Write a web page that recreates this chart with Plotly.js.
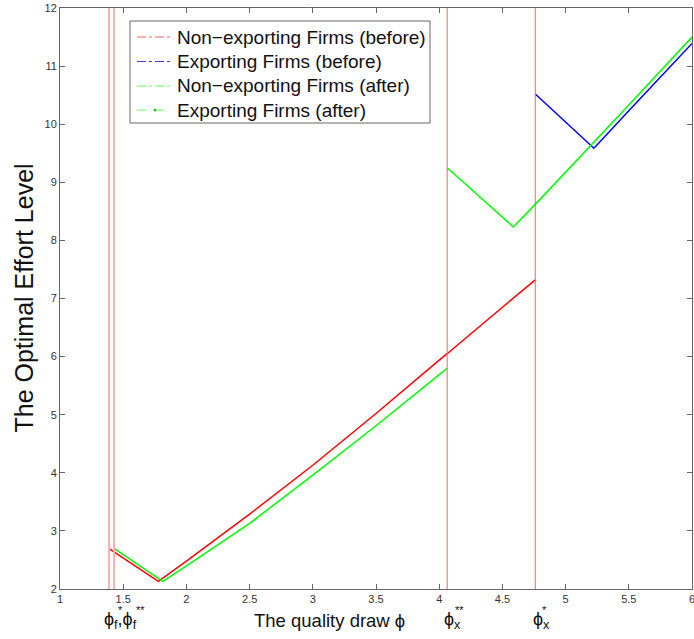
<!DOCTYPE html>
<html>
<head>
<meta charset="utf-8">
<script src="https://cdn.plot.ly/plotly-3.0.1.min.js"></script>
<style>html,body{margin:0;padding:0;background:#fff;}#chart{width:694px;height:639px;}</style>
</head>
<body>
<div id="chart"></div>
<script>
// Non-exporting firms (before)
const nonExpBeforeX = [1.385, 1.5, 1.6, 1.7, 1.778, 2.0, 2.5, 3.0, 3.5, 4.0, 4.063, 4.5, 4.76];
const nonExpBeforeY = [2.70, 2.53, 2.39, 2.24, 2.13, 2.48, 3.29, 4.13, 5.02, 5.94, 6.05, 6.85, 7.32];
// Exporting firms (before)
const expBeforeX = [4.76, 5.0, 5.224, 5.5, 6.0];
const expBeforeY = [10.52, 10.04, 9.585, 10.23, 11.39];
// Non-exporting firms (after)
const nonExpAfterX = [1.427, 1.5, 1.6, 1.7, 1.813, 2.0, 2.5, 3.0, 3.5, 4.0, 4.063];
const nonExpAfterY = [2.70, 2.59, 2.44, 2.30, 2.13, 2.40, 3.13, 3.96, 4.81, 5.69, 5.80];
// Exporting firms (after)
const expAfterX = [4.063, 4.586, 4.76, 5.0, 5.5, 6.0];
const expAfterY = [9.25, 8.23, 8.62, 9.17, 10.33, 11.50];
// Cutoff thresholds: phi_f*, phi_f**, phi_x**, phi_x*
const cutoffs = [1.388, 1.427, 4.063, 4.76];
const cutoffColors = ['#ffb0b0', '#ffb0b0', '#e86a6a', '#e86a6a'];
const cutoffWidths = [2, 2, 1, 1];
const legendNames = ['Non\u2212exporting Firms (before)', 'Exporting Firms (before)', 'Non\u2212exporting Firms (after)', 'Exporting Firms (after)'];
const legendColors = ['#ff6060', '#4040ff', '#60ff60', '#60ff60'];
const legendDash = ['dashdot', 'dashdot', 'dashdot', 'dash'];
const xTicks = [1, 1.5, 2, 2.5, 3, 3.5, 4, 4.5, 5, 5.5, 6];
const yTicks = [2, 3, 4, 5, 6, 7, 8, 9, 10, 11, 12];

const RED = '#ff0000', BLUE = '#0000ff', GREEN = '#00ff00';
const F = 'Liberation Sans, Arial, sans-serif';

const data = [
  {x: nonExpBeforeX, y: nonExpBeforeY, name: legendNames[0], mode: 'lines', line: {color: RED, width: 1.5}, showlegend: false, hoverinfo: 'skip'},
  {x: expBeforeX, y: expBeforeY, name: legendNames[1], mode: 'lines', line: {color: BLUE, width: 1.5}, showlegend: false, hoverinfo: 'skip'},
  {x: nonExpAfterX, y: nonExpAfterY, name: legendNames[2], mode: 'lines', line: {color: GREEN, width: 1.5}, showlegend: false, hoverinfo: 'skip'},
  {x: expAfterX, y: expAfterY, name: legendNames[3], mode: 'lines', line: {color: GREEN, width: 1.5}, showlegend: false, hoverinfo: 'skip'}
];

// plot area in pixels: left 60, right 692, top 8, bottom 589
const px = v => (v - 60) / 632;
const py = v => (589 - v) / 581;

const shapes = cutoffs.map((c, i) => ({
  type: 'line', xref: 'x', yref: 'paper', x0: c, x1: c, y0: 0, y1: 1,
  line: {color: cutoffColors[i], width: cutoffWidths[i]}, layer: 'above'
}));

// manual legend box
const legRows = [37, 61.5, 86, 110];
shapes.push({type: 'rect', xref: 'paper', yref: 'paper', x0: px(130), x1: px(430), y0: py(21), y1: py(123),
  line: {color: '#666', width: 1}, fillcolor: '#fff', layer: 'above'});
legRows.forEach((r, i) => {
  shapes.push({type: 'line', xref: 'paper', yref: 'paper', x0: px(137), x1: px(173), y0: py(r), y1: py(r),
    line: {color: legendColors[i], width: 1, dash: legendDash[i]}, layer: 'above'});
});
shapes.push({type: 'circle', xref: 'paper', yref: 'paper', x0: px(153.5), x1: px(156.5), y0: py(legRows[3] - 1.5), y1: py(legRows[3] + 1.5),
  line: {color: '#22cc22', width: 0}, fillcolor: '#22cc22', layer: 'above'});

const labFont = {family: F, size: 18, color: '#111'};
const supFont = {family: F, size: 11, color: '#111'};
const annotations = [
  {xref: 'paper', yref: 'paper', x: px(329), y: 0, yshift: -31, xanchor: 'center', yanchor: 'middle', showarrow: false,
   text: 'The quality draw \u03d5', font: {family: F, size: 18.5, color: '#111'}},
  {xref: 'paper', yref: 'paper', x: 0, xshift: -37, y: 0.5, xanchor: 'center', yanchor: 'middle', showarrow: false,
   textangle: -90, text: 'The Optimal Effort Level', font: {family: F, size: 25, color: '#111'}},
  // phi_f*, phi_f**
  {xref: 'x', yref: 'paper', x: cutoffs[0], xshift: -7, y: 0, yshift: -31, xanchor: 'left', yanchor: 'middle', showarrow: false,
   text: '\u03d5<sub>f</sub>,\u03d5<sub>f</sub>', font: labFont},
  {xref: 'x', yref: 'paper', x: cutoffs[0], xshift: 7, y: 0, yshift: -21, xanchor: 'left', yanchor: 'middle', showarrow: false, text: '*', font: supFont},
  {xref: 'x', yref: 'paper', x: cutoffs[0], xshift: 25, y: 0, yshift: -21, xanchor: 'left', yanchor: 'middle', showarrow: false, text: '**', font: supFont},
  // phi_x**
  {xref: 'x', yref: 'paper', x: cutoffs[2], xshift: -5, y: 0, yshift: -31, xanchor: 'left', yanchor: 'middle', showarrow: false,
   text: '\u03d5<sub>x</sub>', font: labFont},
  {xref: 'x', yref: 'paper', x: cutoffs[2], xshift: 6, y: 0, yshift: -21, xanchor: 'left', yanchor: 'middle', showarrow: false, text: '**', font: supFont},
  // phi_x*
  {xref: 'x', yref: 'paper', x: cutoffs[3], xshift: -4, y: 0, yshift: -31, xanchor: 'left', yanchor: 'middle', showarrow: false,
   text: '\u03d5<sub>x</sub>', font: labFont},
  {xref: 'x', yref: 'paper', x: cutoffs[3], xshift: 5, y: 0, yshift: -21, xanchor: 'left', yanchor: 'middle', showarrow: false, text: '*', font: supFont},
  // tiny title dot
  {xref: 'paper', yref: 'paper', x: px(308), y: 1, yshift: 0, xanchor: 'center', yanchor: 'bottom', showarrow: false, text: '.', font: {family: F, size: 6, color: '#000'}}
];
legRows.forEach((r, i) => {
  annotations.push({xref: 'paper', yref: 'paper', x: px(175), y: py(r), xanchor: 'left', yanchor: 'middle', showarrow: false,
    text: legendNames[i], font: {family: F, size: 19, color: '#111'}});
});

const axisCommon = {
  showgrid: false, zeroline: false, showline: true, linecolor: '#666', linewidth: 1,
  mirror: 'ticks', ticks: 'inside', ticklen: 5, tickcolor: '#666', tickwidth: 1,
  tickfont: {family: F, size: 11, color: '#333'}, ticklabeloverflow: 'allow'
};

const layout = {
  width: 694, height: 639,
  margin: {l: 60, r: 2, t: 8, b: 50},
  paper_bgcolor: '#fff', plot_bgcolor: '#fff',
  showlegend: false,
  xaxis: Object.assign({}, axisCommon, {range: [1, 6], tickvals: xTicks, ticktext: xTicks.map(String)}),
  yaxis: Object.assign({}, axisCommon, {range: [2, 12], tickvals: yTicks, ticktext: yTicks.map(String)}),
  shapes: shapes,
  annotations: annotations
};

Plotly.newPlot('chart', data, layout, {displayModeBar: false, staticPlot: true});
</script>
</body>
</html>
